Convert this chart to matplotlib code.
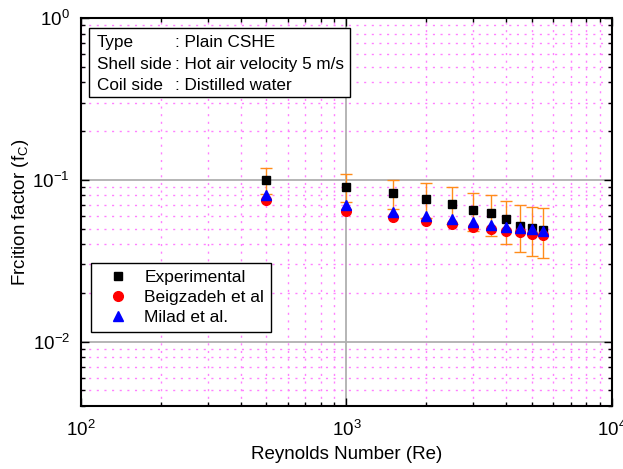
import matplotlib.pyplot as plt
from matplotlib.patches import Rectangle

plt.rcParams['font.family'] = ['Liberation Sans', 'DejaVu Sans']
plt.rcParams['mathtext.fontset'] = 'custom'
plt.rcParams['mathtext.rm'] = 'Liberation Sans'

# data
re = [500, 1000, 1500, 2000, 2500, 3000, 3500, 4000, 4500, 5000, 5500]
f_exp = [0.100, 0.090, 0.083, 0.076, 0.071, 0.065, 0.062, 0.057, 0.052, 0.0506, 0.049]
err_up = [0.019, 0.019, 0.017, 0.019, 0.019, 0.018, 0.018, 0.0175, 0.018, 0.017, 0.018]
err_down = [0.018, 0.017, 0.017, 0.018, 0.018, 0.017, 0.017, 0.017, 0.016, 0.017, 0.016]
f_beig = [0.075, 0.0645, 0.059, 0.0555, 0.0537, 0.0511, 0.0497, 0.0483, 0.0473, 0.0463, 0.0457]
f_milad = [0.0805, 0.0696, 0.0632, 0.0595, 0.0574, 0.0547, 0.0529, 0.0513, 0.0504, 0.0494, 0.0486]

info_keys = ['Type', 'Shell side', 'Coil side']
info_vals = [': Plain CSHE', ': Hot air velocity 5 m/s', ': Distilled water']

fig = plt.figure(figsize=(6.23, 4.69), dpi=100)
ax = fig.add_axes([0.130, 0.1343, 0.852, 0.8273])

ax.set_xscale('log')
ax.set_yscale('log')
ax.set_xlim(1e2, 1e4)
ax.set_ylim(4e-3, 1)

# grids
ax.grid(True, which='major', color='#b0b0b0', linestyle='-', linewidth=1.3, zorder=0)
ax.grid(True, which='minor', color='#ff80ff', linestyle=(0, (1.5, 4)), linewidth=1.0, zorder=0)
ax.set_axisbelow(True)

ax.errorbar(re, f_exp, yerr=[err_down, err_up], fmt='none', ecolor='#ff8c1a',
            elinewidth=1.0, capsize=4, capthick=1.0, zorder=2)
ax.plot(re, f_exp, 's', color='black', markersize=6, label='Experimental', zorder=3)
ax.plot(re, f_beig, 'o', color='red', markersize=7, label='Beigzadeh et al', zorder=3)
ax.plot(re, f_milad, '^', color='blue', markersize=7, label='Milad et al.', zorder=4)

ax.tick_params(which='both', direction='in', top=True, right=True, labelsize=13.5, width=1)
ax.tick_params(axis='x', which='major', pad=10)
ax.tick_params(axis='y', which='major', pad=8)
ax.tick_params(which='major', length=6)
ax.tick_params(which='minor', length=3)
for s in ax.spines.values():
    s.set_linewidth(1.5)

ax.set_xlabel('Reynolds Number (Re)', fontsize=13.5)
ax.set_ylabel('Frcition factor (f$_\\mathregular{C}$)', fontsize=13.5)
ax.xaxis.set_label_coords(0.5, -0.103)
ax.yaxis.set_label_coords(-0.094, 0.5)

leg = ax.legend(loc='lower left', bbox_to_anchor=(0.018, 0.19), fontsize=12.5,
                fancybox=False, framealpha=1, edgecolor='black', borderaxespad=0,
                handletextpad=0.3, labelspacing=0.3, handlelength=2.4)
leg.get_frame().set_linewidth(1.0)

# info box
ax.add_patch(Rectangle((0.0156, 0.797), 0.491, 0.1765, transform=ax.transAxes,
                       facecolor='white', edgecolor='black', linewidth=1.0, zorder=5))
for i in range(len(info_keys)):
    y = 0.937 - i * 0.056
    ax.text(0.03, y, info_keys[i], transform=ax.transAxes, fontsize=12.3,
            va='center', ha='left', zorder=6)
    ax.text(0.178, y, info_vals[i], transform=ax.transAxes, fontsize=12.3,
            va='center', ha='left', zorder=6)

fig.savefig('out.png', dpi=100)
